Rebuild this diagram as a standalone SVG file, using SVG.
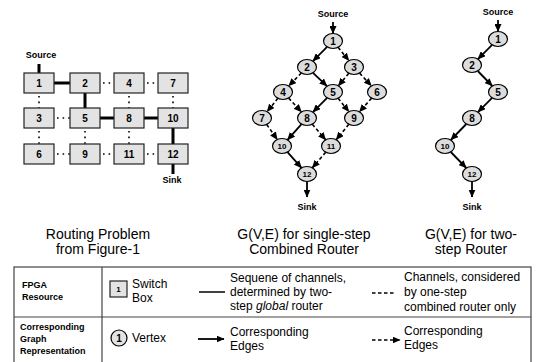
<svg xmlns="http://www.w3.org/2000/svg" width="539" height="362" viewBox="0 0 539 362">
  <defs>
    <marker id="arrow" markerUnits="userSpaceOnUse" markerWidth="8" markerHeight="7" refX="7.5" refY="3.5" orient="auto">
      <path d="M0,0 L8,3.5 L0,7 Z" fill="#000"/>
    </marker>
    <style>
      text { font-family: "Liberation Sans", Arial, sans-serif; fill: #000; }
      .lbl { font-size: 9px; font-weight: bold; text-anchor: middle; }
      .box { fill: #e3e3e3; stroke: #222; stroke-width: 1.2; }
      .boxt { font-size: 10px; font-weight: bold; text-anchor: middle; }
      .thick { stroke: #000; stroke-width: 3; fill: none; }
      .dot { stroke: #000; stroke-width: 1.6; stroke-dasharray: 1.6 4; fill: none; }
      .node { fill: #dcdcdc; stroke: #000; stroke-width: 1.2; }
      .nt { font-size: 10px; font-weight: bold; text-anchor: middle; }
      .nts { font-size: 8px; font-weight: bold; text-anchor: middle; }
      .solid { stroke: #000; stroke-width: 1.8; fill: none; marker-end: url(#arrow); }
      .dash { stroke: #000; stroke-width: 1.6; stroke-dasharray: 3.5 2.5; fill: none; marker-end: url(#arrow); }
      .cap { font-size: 14px; text-anchor: middle; }
      .tb { stroke: #444; stroke-width: 1.2; fill: none; }
      .hd { font-size: 9px; font-weight: bold; }
      .tx { font-size: 12px; }
    </style>
  </defs>

  <!-- Switch-box grid -->
  <text class="lbl" x="41" y="58">Source</text>
  <g id="grid-links">
    <line class="thick" x1="39" y1="64" x2="39" y2="73"/>
    <line class="thick" x1="54" y1="83" x2="70" y2="83"/>
    <line class="thick" x1="85" y1="93" x2="85" y2="108"/>
    <line class="thick" x1="100" y1="118" x2="114" y2="118"/>
    <line class="thick" x1="144" y1="118" x2="158" y2="118"/>
    <line class="thick" x1="173" y1="128" x2="173" y2="144"/>
    <line class="thick" x1="173" y1="164" x2="173" y2="174"/>
    <line class="dot" x1="103" y1="83" x2="114" y2="83"/>
    <line class="dot" x1="147" y1="83" x2="158" y2="83"/>
    <line class="dot" x1="39" y1="96" x2="39" y2="108"/>
    <line class="dot" x1="57" y1="118" x2="70" y2="118"/>
    <line class="dot" x1="39" y1="131" x2="39" y2="144"/>
    <line class="dot" x1="85" y1="131" x2="85" y2="144"/>
    <line class="dot" x1="129" y1="96" x2="129" y2="108"/>
    <line class="dot" x1="129" y1="131" x2="129" y2="144"/>
    <line class="dot" x1="57" y1="154" x2="70" y2="154"/>
    <line class="dot" x1="103" y1="154" x2="114" y2="154"/>
    <line class="dot" x1="147" y1="154" x2="158" y2="154"/>
    <line class="dot" x1="173" y1="96" x2="173" y2="108"/>
  </g>
  <g id="sb1"><rect class="box" x="24" y="73" width="30" height="20"/><text class="boxt" x="39" y="87">1</text></g>
  <g id="sb2"><rect class="box" x="70" y="73" width="30" height="20"/><text class="boxt" x="85" y="87">2</text></g>
  <g id="sb4"><rect class="box" x="114" y="73" width="30" height="20"/><text class="boxt" x="129" y="87">4</text></g>
  <g id="sb7"><rect class="box" x="158" y="73" width="30" height="20"/><text class="boxt" x="173" y="87">7</text></g>
  <g id="sb3"><rect class="box" x="24" y="108" width="30" height="20"/><text class="boxt" x="39" y="122">3</text></g>
  <g id="sb5"><rect class="box" x="70" y="108" width="30" height="20"/><text class="boxt" x="85" y="122">5</text></g>
  <g id="sb8"><rect class="box" x="114" y="108" width="30" height="20"/><text class="boxt" x="129" y="122">8</text></g>
  <g id="sb10"><rect class="box" x="158" y="108" width="30" height="20"/><text class="boxt" x="173" y="122">10</text></g>
  <g id="sb6"><rect class="box" x="24" y="144" width="30" height="20"/><text class="boxt" x="39" y="158">6</text></g>
  <g id="sb9"><rect class="box" x="70" y="144" width="30" height="20"/><text class="boxt" x="85" y="158">9</text></g>
  <g id="sb11"><rect class="box" x="114" y="144" width="30" height="20"/><text class="boxt" x="129" y="158">11</text></g>
  <g id="sb12"><rect class="box" x="158" y="144" width="30" height="20"/><text class="boxt" x="173" y="158">12</text></g>
  <text class="lbl" x="172" y="183">Sink</text>

  <!-- Combined router graph -->
  <text class="lbl" x="333" y="17">Source</text>
  <text class="lbl" x="307" y="210">Sink</text>
  <g id="g1-edges">
    <line class="solid" x1="333" y1="22" x2="333" y2="33.5"/>
    <line class="solid" x1="327.1" y1="46.9" x2="312.9" y2="61.1"/>
    <line class="dash" x1="338.1" y1="47.3" x2="348.9" y2="60.7"/>
    <line class="dash" x1="301.3" y1="73" x2="288.7" y2="86"/>
    <line class="solid" x1="313" y1="72.8" x2="327" y2="86.2"/>
    <line class="dash" x1="348.8" y1="73.3" x2="338.3" y2="85.8"/>
    <line class="dash" x1="359.6" y1="73.1" x2="371.4" y2="85.9"/>
    <line class="dash" x1="277.9" y1="98.3" x2="267.1" y2="111.7"/>
    <line class="dash" x1="288.6" y1="98.1" x2="301.4" y2="111.9"/>
    <line class="solid" x1="327.1" y1="97.9" x2="312.9" y2="112.1"/>
    <line class="dash" x1="338.1" y1="98.3" x2="348.9" y2="111.7"/>
    <line class="dash" x1="371.6" y1="98.1" x2="359.4" y2="111.9"/>
    <line class="dash" x1="266.7" y1="124.5" x2="277.3" y2="139.5"/>
    <line class="solid" x1="301.5" y1="124.1" x2="287.5" y2="139.9"/>
    <line class="dash" x1="312.3" y1="124.2" x2="325.7" y2="139.8"/>
    <line class="dash" x1="348.8" y1="124.3" x2="336.2" y2="139.7"/>
    <line class="solid" x1="287.5" y1="152.1" x2="301.5" y2="167.9"/>
    <line class="dash" x1="325.7" y1="152.2" x2="312.3" y2="167.8"/>
    <line class="solid" x1="307" y1="181.5" x2="307" y2="197"/>
  </g>
  <g id="c1"><ellipse class="node" cx="333" cy="41" rx="9.5" ry="7.5"/><text class="nt" x="333" y="44.5">1</text></g>
  <g id="c2"><ellipse class="node" cx="307" cy="67" rx="9.5" ry="7.5"/><text class="nt" x="307" y="70.5">2</text></g>
  <g id="c3"><ellipse class="node" cx="354" cy="67" rx="9.5" ry="7.5"/><text class="nt" x="354" y="70.5">3</text></g>
  <g id="c4"><ellipse class="node" cx="283" cy="92" rx="9.5" ry="7.5"/><text class="nt" x="283" y="95.5">4</text></g>
  <g id="c5"><ellipse class="node" cx="333" cy="92" rx="9.5" ry="7.5"/><text class="nt" x="333" y="95.5">5</text></g>
  <g id="c6"><ellipse class="node" cx="377" cy="92" rx="9.5" ry="7.5"/><text class="nt" x="377" y="95.5">6</text></g>
  <g id="c7"><ellipse class="node" cx="262" cy="118" rx="9.5" ry="7.5"/><text class="nt" x="262" y="121.5">7</text></g>
  <g id="c8"><ellipse class="node" cx="307" cy="118" rx="9.5" ry="7.5"/><text class="nt" x="307" y="121.5">8</text></g>
  <g id="c9"><ellipse class="node" cx="354" cy="118" rx="9.5" ry="7.5"/><text class="nt" x="354" y="121.5">9</text></g>
  <g id="c10"><ellipse class="node" cx="282" cy="146" rx="9.5" ry="7.5"/><text class="nts" x="282" y="149">10</text></g>
  <g id="c11"><ellipse class="node" cx="331" cy="146" rx="9.5" ry="7.5"/><text class="nts" x="331" y="149">11</text></g>
  <g id="c12"><ellipse class="node" cx="307" cy="174" rx="9.5" ry="7.5"/><text class="nts" x="307" y="177">12</text></g>

  <!-- Two-step router path -->
  <text class="lbl" x="498" y="15">Source</text>
  <text class="lbl" x="472" y="210">Sink</text>
  <g id="g2-edges">
    <line class="solid" x1="498" y1="20" x2="498" y2="31.5"/>
    <line class="solid" x1="492.1" y1="44.9" x2="477.9" y2="59.1"/>
    <line class="solid" x1="477.8" y1="71" x2="492.3" y2="86"/>
    <line class="solid" x1="492.1" y1="97.9" x2="477.9" y2="112.1"/>
    <line class="solid" x1="466.3" y1="124" x2="450.8" y2="140"/>
    <line class="solid" x1="450.8" y1="152" x2="466.3" y2="168"/>
    <line class="solid" x1="472" y1="181.5" x2="472" y2="197"/>
  </g>
  <g id="r1"><ellipse class="node" cx="498" cy="39" rx="9.5" ry="7.5"/><text class="nt" x="498" y="42.5">1</text></g>
  <g id="r2"><ellipse class="node" cx="472" cy="65" rx="9.5" ry="7.5"/><text class="nt" x="472" y="68.5">2</text></g>
  <g id="r5"><ellipse class="node" cx="498" cy="92" rx="9.5" ry="7.5"/><text class="nt" x="498" y="95.5">5</text></g>
  <g id="r8"><ellipse class="node" cx="472" cy="118" rx="9.5" ry="7.5"/><text class="nt" x="472" y="121.5">8</text></g>
  <g id="r10"><ellipse class="node" cx="445" cy="146" rx="9.5" ry="7.5"/><text class="nts" x="445" y="149">10</text></g>
  <g id="r12"><ellipse class="node" cx="472" cy="174" rx="9.5" ry="7.5"/><text class="nts" x="472" y="177">12</text></g>

  <!-- Captions -->
  <text class="cap" x="98" y="239">Routing Problem</text>
  <text class="cap" x="98" y="254">from Figure-1</text>
  <text class="cap" x="304" y="239">G(V,E) for single-step</text>
  <text class="cap" x="304" y="254">Combined Router</text>
  <text class="cap" x="471" y="239">G(V,E) for two-</text>
  <text class="cap" x="471" y="254">step Router</text>

  <!-- Legend table -->
  <g id="legend">
    <rect class="tb" x="14" y="267" width="517" height="110"/>
    <line class="tb" x1="14" y1="317" x2="531" y2="317"/>
    <line class="tb" x1="102" y1="267" x2="102" y2="362"/>
    <text class="hd" x="22" y="288">FPGA</text>
    <text class="hd" x="22" y="300">Resource</text>
    <text class="hd" x="20" y="330">Corresponding</text>
    <text class="hd" x="20" y="342">Graph</text>
    <text class="hd" x="20" y="354">Representation</text>

    <rect class="box" x="110" y="281" width="17" height="16"/>
    <text class="nts" x="118.5" y="292">1</text>
    <text class="tx" x="132" y="288">Switch</text>
    <text class="tx" x="132" y="302">Box</text>

    <line stroke="#000" stroke-width="1.5" x1="199" y1="292" x2="225" y2="292"/>
    <text class="tx" x="230" y="282">Sequene of channels,</text>
    <text class="tx" x="230" y="296">determined by two-</text>
    <text class="tx" x="230" y="310">step <tspan font-style="italic">global</tspan> router</text>

    <line stroke="#000" stroke-width="1.3" stroke-dasharray="3.5 2.5" x1="372" y1="293" x2="394" y2="293"/>
    <text class="tx" x="404" y="281">Channels, considered</text>
    <text class="tx" x="404" y="296">by one-step</text>
    <text class="tx" x="404" y="311">combined router only</text>

    <ellipse fill="#e3e3e3" stroke="#000" stroke-width="1.2" cx="119" cy="338" rx="8" ry="8"/>
    <text class="nt" x="119" y="341.5">1</text>
    <text class="tx" x="132" y="342">Vertex</text>

    <line class="solid" x1="198" y1="339" x2="224" y2="339"/>
    <text class="tx" x="230" y="336">Corresponding</text>
    <text class="tx" x="230" y="350">Edges</text>

    <line class="dash" x1="372" y1="340" x2="400" y2="340"/>
    <text class="tx" x="404" y="335">Corresponding</text>
    <text class="tx" x="404" y="349">Edges</text>
  </g>
</svg>
